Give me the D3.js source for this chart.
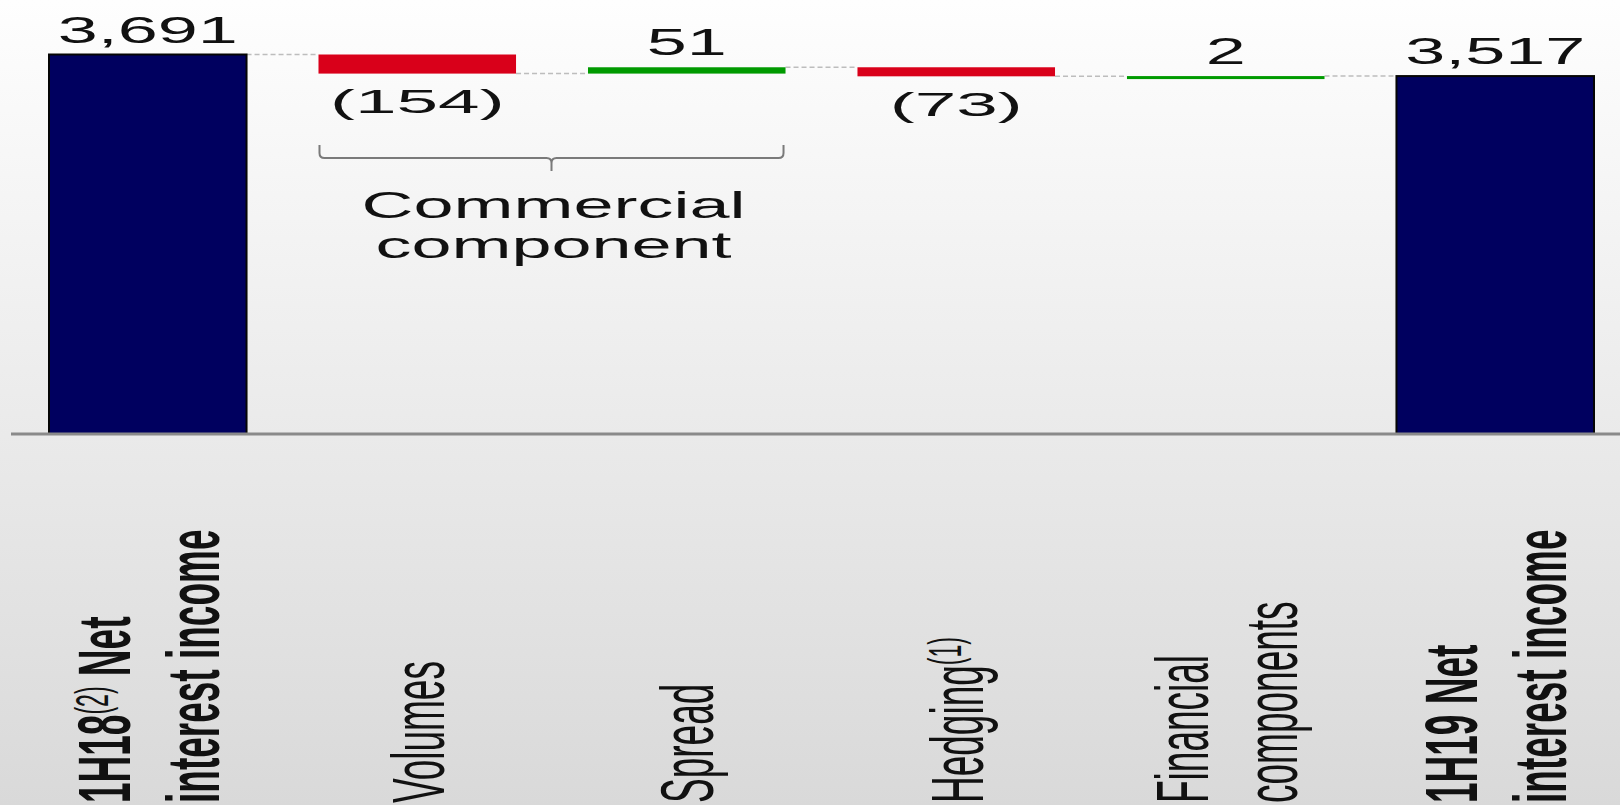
<!DOCTYPE html>
<html>
<head>
<meta charset="utf-8">
<title>Net interest income bridge 1H18 – 1H19</title>
<script src="https://cdn.jsdelivr.net/npm/d3@7"></script>
<style>
  html, body { margin: 0; padding: 0; background: #ffffff; }
  svg { display: block; }
</style>
</head>
<body>
<svg id="chart" width="1620" height="805"></svg>
<script>
// ---- data ----------------------------------------------------------------
const categories = ["1H18 Net interest income", "Volumes", "Spread", "Hedging",
                    "Financial components", "1H19 Net interest income"];
const values = [3691, -154, 51, -73, 2, 3517];
const kinds = ["total", "delta", "delta", "delta", "delta", "total"];

// category labels, one list of lines per category; "^" wraps a superscript
const tickLabels = [
  ["1H18^(2)^ Net", "interest income"],
  ["Volumes"],
  ["Spread"],
  ["Hedging^(1)"],
  ["Financial", "components"],
  ["1H19 Net", "interest income"]
];
const boldTicks = [true, false, false, false, false, true];

// bracket grouping the commercial drivers
const groupLabel = ["Commercial", "component"];
const groupSpan = ["Volumes", "Spread"];

// ---- layout ----------------------------------------------------------------
const W = 1620, H = 805;
const FONT = "'Liberation Sans', Arial, Helvetica, sans-serif";
const STRETCH = 2;            // horizontal stretch applied to all lettering
const colors = { total: "#00005f", up: "#009a00", down: "#d9001a" };

const svg = d3.select("#chart");

// background wash
const defs = svg.append("defs");
const grad = defs.append("linearGradient")
  .attr("id", "bg").attr("x1", 0).attr("y1", 0).attr("x2", 0).attr("y2", 1);
grad.append("stop").attr("offset", "0%").attr("stop-color", "#fefefe");
grad.append("stop").attr("offset", "100%").attr("stop-color", "#d9d9d9");
svg.append("rect").attr("width", W).attr("height", H).attr("fill", "url(#bg)");

// scales (value axis is broken: bars start well above zero)
const x = d3.scaleBand().domain(categories)
  .range([49, 1594]).paddingInner(0.267).paddingOuter(0);
const y = d3.scaleLinear().domain([630, 3691]).range([434, 54.5]);
const bw = x.bandwidth();

// running levels for the waterfall
let level = 0;
const bars = categories.map((c, i) => {
  const v = values[i];
  let start, end;
  if (kinds[i] === "total") { start = y.domain()[0]; end = v; level = v; }
  else { start = level; end = level + v; level = end; }
  return { cat: c, value: v, kind: kinds[i], start, end, level };
});

// connectors between consecutive bars
svg.append("g").selectAll("line")
  .data(bars.slice(0, -1))
  .join("line")
  .attr("x1", d => x(d.cat) + bw)
  .attr("x2", (d, i) => x(bars[i + 1].cat))
  .attr("y1", d => y(d.level))
  .attr("y2", d => y(d.level))
  .attr("stroke", "#bdbdbd")
  .attr("stroke-width", 1.5)
  .attr("stroke-dasharray", "5,3");

// bars
svg.append("g").selectAll("rect")
  .data(bars)
  .join("rect")
  .attr("x", d => x(d.cat))
  .attr("width", bw)
  .attr("y", d => y(Math.max(d.start, d.end)))
  .attr("height", d => Math.max(3, Math.abs(y(d.start) - y(d.end))))
  .attr("fill", d => d.kind === "total" ? colors.total : (d.value < 0 ? colors.down : colors.up))
  .attr("stroke", d => d.kind === "total" ? "#050505" : "none")
  .attr("stroke-width", 2);

// baseline
svg.append("line")
  .attr("x1", 11).attr("x2", W)
  .attr("y1", y.range()[0]).attr("y2", y.range()[0])
  .attr("stroke", "#8a8a8a").attr("stroke-width", 3);

// value labels
const fmt = d3.format(",");
svg.append("g").selectAll("text")
  .data(bars)
  .join("text")
  .attr("transform", d => {
    const cx = x(d.cat) + bw / 2;
    if (d.value < 0) {
      return `translate(${cx},${y(Math.min(d.start, d.end)) + 39.5}) scale(2.2,1)`;
    }
    return `translate(${cx},${y(Math.max(d.start, d.end)) - 12}) scale(${STRETCH},1)`;
  })
  .attr("text-anchor", "middle")
  .attr("font-family", FONT)
  .attr("font-size", d => d.value < 0 ? 34 : 36)
  .attr("fill", "#111")
  .text(d => d.value < 0 ? `(${fmt(-d.value)})` : fmt(d.value));

// bracket over the commercial drivers
const bL = x(groupSpan[0]) + 1;
const bR = x(groupSpan[1]) + bw - 2;
const bM = (bL + bR) / 2;
const bTop = 145, bMid = 158, bTip = 171, r = 5;
svg.append("path")
  .attr("d", [
    `M${bL},${bTop}`, `L${bL},${bMid - r}`, `Q${bL},${bMid} ${bL + r},${bMid}`,
    `L${bM - r},${bMid}`, `Q${bM},${bMid} ${bM},${bMid + r}`, `L${bM},${bTip}`,
    `M${bM},${bMid + r}`, `Q${bM},${bMid} ${bM + r},${bMid}`,
    `L${bR - r},${bMid}`, `Q${bR},${bMid} ${bR},${bMid - r}`, `L${bR},${bTop}`
  ].join(" "))
  .attr("fill", "none")
  .attr("stroke", "#7a7a7a")
  .attr("stroke-width", 2);

svg.append("g").selectAll("text")
  .data(groupLabel)
  .join("text")
  .attr("transform", (d, i) => `translate(${bM + 2},${218 + i * 40}) scale(${STRETCH},1)`)
  .attr("text-anchor", "middle")
  .attr("font-family", FONT)
  .attr("font-size", 36)
  .attr("fill", "#111")
  .text(d => d);

// rotated category labels
const tickSize = 37, supSize = 23, supRaise = 11;
const capW = 0.716 * tickSize * STRETCH;   // on-screen width of one line of capitals
const lineGap = 89;                          // on-screen distance between baselines
const labelStart = 803;

const tickG = svg.append("g");
categories.forEach((c, i) => {
  const lines = tickLabels[i];
  const block = capW + (lines.length - 1) * lineGap;
  const cx = x(c) + bw / 2;
  lines.forEach((line, j) => {
    const bx = cx - block / 2 + capW + j * lineGap;
    const t = tickG.append("text")
      .attr("transform", `translate(${bx},${labelStart}) scale(${STRETCH},1) rotate(-90)`)
      .attr("text-anchor", "start")
      .attr("font-family", FONT)
      .attr("font-size", tickSize)
      .attr("font-weight", boldTicks[i] ? "bold" : "normal")
      .attr("fill", "#111");
    let raised = false;
    line.split("^").forEach((seg, k) => {
      if (!seg) return;
      const sup = k % 2 === 1;
      const ts = t.append("tspan").text(seg);
      if (sup) {
        ts.attr("font-size", supSize).attr("font-weight", "normal").attr("dy", -supRaise);
        raised = true;
      } else if (raised) {
        ts.attr("dy", supRaise);
        raised = false;
      }
    });
  });
});
</script>
</body>
</html>
